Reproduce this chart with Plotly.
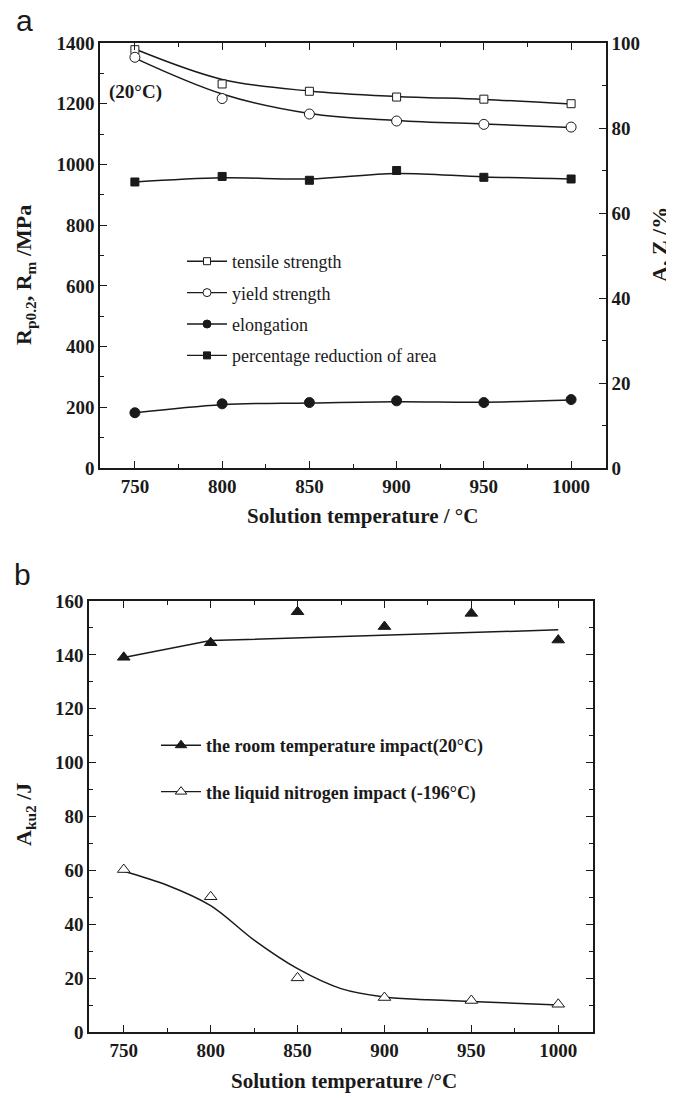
import plotly.graph_objects as go

# ---------------- data ----------------
temps = [750, 800, 850, 900, 950, 1000]

# panel a (left axis, MPa)
tensile = [1378, 1265, 1241, 1222, 1215, 1200]
yield_strength = [1353, 1217, 1166, 1143, 1132, 1123]
tensile_fit = [1380, 1280, 1242, 1224, 1214, 1199]
yield_fit = [1350, 1232, 1168, 1145, 1133, 1122]

# panel a (right axis, %)
elongation = [13.0, 15.1, 15.4, 15.8, 15.4, 16.1]
reduction_area = [67.3, 68.6, 67.7, 70.0, 68.4, 68.0]
elongation_fit = [13.0, 14.9, 15.3, 15.6, 15.5, 16.0]
reduction_fit = [67.3, 68.3, 68.0, 69.3, 68.5, 68.0]

# panel b (J)
room_impact = [139.1, 144.5, 156.0, 150.5, 155.4, 145.5]
ln_impact = [60.3, 50.2, 20.1, 12.8, 11.7, 10.3]
room_fit_x = [750, 800, 1000]
room_fit_y = [139.0, 145.3, 149.3]
ln_fit_x = [750, 775, 800, 825, 850, 875, 900, 925, 950, 1000]
ln_fit_y = [59.7, 54.5, 46.9, 34.1, 23.5, 16.1, 13.0, 12.0, 11.3, 10.0]

x_ticks = [750, 800, 850, 900, 950, 1000]

# ---------------- layout helpers ----------------
# page body has an 8px margin, so the figure is placed at (8, 8) in the window
OFF = 8
W, H = 674 - OFF, 1098 - OFF
def px(x):
    return (x - OFF) / W
def py(y):
    return 1 - (y - OFF) / H

INK = "#1a1a1a"
SERIF = "Liberation Serif"
SANS = "Liberation Sans"

fig = go.Figure()

mk_line = dict(color=INK, width=1)

# ---- panel a fit curves ----
for fy, ax in [(tensile_fit, "y"), (yield_fit, "y"), (elongation_fit, "y2"), (reduction_fit, "y2")]:
    fig.add_trace(go.Scatter(x=temps, y=fy, mode="lines", xaxis="x", yaxis=ax,
                             line=dict(color=INK, width=1.5, shape="spline", smoothing=1.0),
                             showlegend=False, hoverinfo="skip"))

# ---- panel a markers ----
fig.add_trace(go.Scatter(x=temps, y=tensile, mode="markers", xaxis="x", yaxis="y",
                         marker=dict(symbol="square", size=8, color="white", line=mk_line),
                         showlegend=False))
fig.add_trace(go.Scatter(x=temps, y=yield_strength, mode="markers", xaxis="x", yaxis="y",
                         marker=dict(symbol="circle", size=10, color="white", line=mk_line),
                         showlegend=False))
fig.add_trace(go.Scatter(x=temps, y=elongation, mode="markers", xaxis="x", yaxis="y2",
                         marker=dict(symbol="circle", size=10, color=INK, line=mk_line),
                         showlegend=False))
fig.add_trace(go.Scatter(x=temps, y=reduction_area, mode="markers", xaxis="x", yaxis="y2",
                         marker=dict(symbol="square", size=8, color=INK, line=mk_line),
                         showlegend=False))

# ---- panel a legend entries ----
leg_a = [("tensile strength", "square", 7, "white"),
         ("yield strength", "circle", 8, "white"),
         ("elongation", "circle", 8, INK),
         ("percentage reduction of area", "square", 7, INK)]
for i, (name, sym, sz, fc) in enumerate(leg_a):
    fig.add_trace(go.Scatter(x=[None], y=[None], mode="lines+markers", name=name,
                             xaxis="x", yaxis="y", legend="legend", legendgroup=f"a{i}",
                             line=dict(color=INK, width=1.4),
                             marker=dict(symbol=sym, size=sz, color=fc, line=mk_line)))

# ---- panel b ----
fig.add_trace(go.Scatter(x=room_fit_x, y=room_fit_y, mode="lines", xaxis="x2", yaxis="y3",
                         line=dict(color=INK, width=1.5), showlegend=False, hoverinfo="skip"))
fig.add_trace(go.Scatter(x=ln_fit_x, y=ln_fit_y, mode="lines", xaxis="x2", yaxis="y3",
                         line=dict(color=INK, width=1.5, shape="spline", smoothing=1.0),
                         showlegend=False, hoverinfo="skip"))
fig.add_trace(go.Scatter(x=temps, y=room_impact, mode="markers", xaxis="x2", yaxis="y3",
                         marker=dict(symbol="triangle-up", size=11, color=INK, line=mk_line),
                         showlegend=False))
fig.add_trace(go.Scatter(x=temps, y=ln_impact, mode="markers", xaxis="x2", yaxis="y3",
                         marker=dict(symbol="triangle-up", size=11, color="white", line=mk_line),
                         showlegend=False))
leg_b = [("the room temperature impact(20°C)", INK),
         ("the liquid nitrogen impact (-196°C)", "white")]
for i, (name, fc) in enumerate(leg_b):
    fig.add_trace(go.Scatter(x=[None], y=[None], mode="lines+markers", name=name,
                             xaxis="x2", yaxis="y3", legend="legend2", legendgroup=f"b{i}",
                             line=dict(color=INK, width=1.4),
                             marker=dict(symbol="triangle-up", size=10, color=fc, line=mk_line)))

tickfont = dict(family=SERIF, size=19, color=INK, weight="bold")
common = dict(showgrid=False, zeroline=False, showline=True, linecolor=INK, linewidth=1.6,
              ticks="inside", ticklen=7, tickwidth=1.3, tickcolor=INK, tickfont=tickfont,
              automargin=False)

xa_dom = [px(100), px(606)]
ya_dom = [py(468), py(43)]
xb_dom = [px(89), px(593)]
yb_dom = [py(1032), py(601)]

minor_x = dict(tickvals=[775, 825, 875, 925, 975], ticks="inside", ticklen=4, tickcolor=INK)

fig.update_layout(
    width=W, height=H, margin=dict(l=0, r=0, t=0, b=0, autoexpand=False),
    paper_bgcolor="white", plot_bgcolor="white",
    xaxis=dict(domain=xa_dom, range=[730, 1020], anchor="y", tickvals=x_ticks, mirror="ticks",
               minor=minor_x, **common),
    yaxis=dict(domain=ya_dom, range=[0, 1400], anchor="x", dtick=200,
               minor=dict(dtick=100, ticks="inside", ticklen=4, tickcolor=INK), **common),
    yaxis2=dict(overlaying="y", side="right", range=[0, 100], anchor="x", dtick=20,
                minor=dict(dtick=10, ticks="inside", ticklen=4, tickcolor=INK), **common),
    xaxis2=dict(domain=xb_dom, range=[730, 1020], anchor="y3", tickvals=x_ticks, mirror="ticks",
                minor=minor_x, **common),
    yaxis3=dict(domain=yb_dom, range=[0, 160], anchor="x2", dtick=20, mirror="ticks",
                minor=dict(dtick=10, ticks="inside", ticklen=4, tickcolor=INK), **common),
    legend=dict(x=px(182), y=py(243), xanchor="left", yanchor="top", traceorder="grouped",
                tracegroupgap=5, itemwidth=40, bgcolor="rgba(0,0,0,0)",
                font=dict(family=SERIF, size=18, color=INK)),
    legend2=dict(x=px(156), y=py(727), xanchor="left", yanchor="top", traceorder="grouped",
                 tracegroupgap=20, itemwidth=40, bgcolor="rgba(0,0,0,0)",
                 font=dict(family=SERIF, size=18, color=INK, weight="bold")),
    showlegend=True,
)

annots = [
    dict(text="a", x=px(24), y=py(20), font=dict(family=SANS, size=30, color=INK)),
    dict(text="b", x=px(22), y=py(575), font=dict(family=SANS, size=30, color=INK)),
    dict(text="<b>(20°C)</b>", x=px(135), y=py(92), font=dict(family=SERIF, size=19, color=INK)),
    dict(text="<b>Solution temperature / °C</b>", x=px(362), y=py(516), font=dict(family=SERIF, size=21, color=INK)),
    dict(text="<b>Solution temperature /°C</b>", x=px(344), y=py(1081), font=dict(family=SERIF, size=21, color=INK)),
    dict(text="<b>R<sub>p0.2</sub>, R<sub>m</sub> /MPa</b>", x=px(25), y=py(275), textangle=-90,
         font=dict(family=SERIF, size=22, color=INK)),
    dict(text="<b>A, Z /%</b>", x=px(660), y=py(245), textangle=-90, font=dict(family=SERIF, size=22, color=INK)),
    dict(text="<b>A<sub>ku2</sub> /J</b>", x=px(25), y=py(815), textangle=-90, font=dict(family=SERIF, size=22, color=INK)),
]
for a in annots:
    fig.add_annotation(xref="paper", yref="paper", showarrow=False, xanchor="center", yanchor="middle", **a)

fig.write_html("out.html")
